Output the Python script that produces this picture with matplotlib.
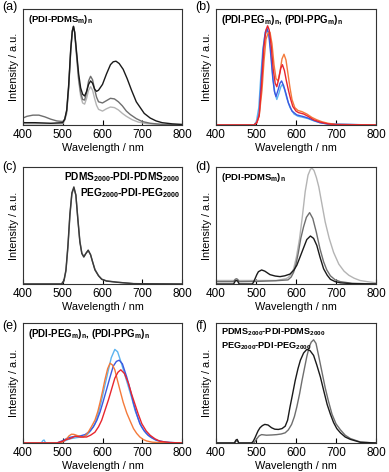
import matplotlib.pyplot as plt

plt.rcParams['font.family'] = ['Liberation Sans', 'DejaVu Sans']
plt.rcParams['mathtext.fontset'] = 'custom'
plt.rcParams['mathtext.rm'] = 'Liberation Sans:bold'
plt.rcParams['mathtext.it'] = 'Liberation Sans:bold'
plt.rcParams['mathtext.bf'] = 'Liberation Sans:bold'

# colours
BLACK = '#1a1a1a'
MIDGRAY = '#6e6e6e'
LIGHTGRAY = '#b4b4b4'
LIGHTBLUE = '#5cb4f0'
BLUE = '#3c58e0'
RED = '#e8262e'
ORANGE = '#f47a3a'

# ---- (a) solution spectra, (PDI-PDMSm)n
a_black_x = [400, 430, 470, 500, 505, 510, 515, 520, 524, 527, 530, 535, 540, 545, 550, 555, 560, 565, 570, 575, 580, 585, 590, 600, 610, 620, 627, 634, 642, 652, 662, 673, 685, 695, 705, 720, 735, 750, 775, 800]
a_black_y = [0.02, 0.02, 0.015, 0.02, 0.05, 0.13, 0.35, 0.65, 0.81, 0.85, 0.80, 0.62, 0.44, 0.32, 0.265, 0.25, 0.29, 0.35, 0.38, 0.36, 0.31, 0.29, 0.30, 0.35, 0.44, 0.52, 0.545, 0.55, 0.53, 0.48, 0.40, 0.30, 0.20, 0.15, 0.10, 0.06, 0.035, 0.02, 0.01, 0.005]
a_mid_x = [400, 410, 425, 440, 455, 470, 485, 500, 505, 510, 515, 520, 524, 527, 530, 535, 540, 545, 550, 555, 560, 565, 570, 575, 580, 585, 590, 600, 610, 620, 630, 640, 650, 660, 670, 685, 700, 720, 750, 800]
a_mid_y = [0.06, 0.075, 0.085, 0.085, 0.07, 0.05, 0.035, 0.03, 0.05, 0.12, 0.33, 0.64, 0.81, 0.85, 0.80, 0.60, 0.40, 0.28, 0.22, 0.215, 0.28, 0.38, 0.42, 0.39, 0.31, 0.24, 0.20, 0.19, 0.21, 0.23, 0.225, 0.20, 0.165, 0.12, 0.09, 0.055, 0.03, 0.015, 0.005, 0.0]
a_light_x = [400, 500, 505, 510, 515, 520, 524, 527, 530, 535, 540, 545, 550, 555, 560, 565, 570, 575, 580, 585, 590, 600, 610, 620, 630, 640, 650, 660, 675, 690, 710, 750, 800]
a_light_y = [0.01, 0.01, 0.04, 0.10, 0.32, 0.63, 0.80, 0.85, 0.79, 0.58, 0.38, 0.25, 0.19, 0.18, 0.23, 0.30, 0.33, 0.30, 0.23, 0.17, 0.135, 0.12, 0.14, 0.155, 0.15, 0.13, 0.10, 0.075, 0.045, 0.025, 0.012, 0.003, 0.0]

# ---- (b) solution spectra, (PDI-PEGm)n and (PDI-PPGm)n
b_lblue_x = [400, 495, 501, 507, 512, 517, 522, 527, 532, 537, 542, 547, 552, 557, 562, 566, 571, 577, 585, 595, 605, 615, 630, 645, 660, 680, 800]
b_lblue_y = [0.0, 0.0, 0.03, 0.15, 0.42, 0.65, 0.77, 0.81, 0.80, 0.65, 0.42, 0.28, 0.22, 0.27, 0.33, 0.35, 0.31, 0.23, 0.15, 0.095, 0.075, 0.068, 0.055, 0.035, 0.02, 0.008, 0.0]
b_blue_x = [400, 495, 502, 508, 513, 518, 523, 528, 532, 537, 542, 546, 550, 555, 560, 564, 569, 575, 581, 590, 602, 612, 619, 630, 644, 660, 680, 800]
b_blue_y = [0.0, 0.0, 0.02, 0.10, 0.38, 0.65, 0.80, 0.83, 0.78, 0.60, 0.40, 0.29, 0.245, 0.30, 0.36, 0.38, 0.34, 0.27, 0.19, 0.12, 0.087, 0.078, 0.072, 0.06, 0.04, 0.02, 0.008, 0.0]
b_red_x = [400, 495, 502, 508, 514, 520, 525, 529, 533, 538, 543, 548, 552, 557, 562, 566, 571, 576, 581, 586, 592, 600, 606, 619, 630, 644, 660, 680, 700, 800]
b_red_y = [0.0, 0.0, 0.02, 0.08, 0.35, 0.68, 0.82, 0.855, 0.82, 0.68, 0.48, 0.36, 0.33, 0.40, 0.49, 0.52, 0.47, 0.38, 0.30, 0.23, 0.16, 0.12, 0.107, 0.095, 0.075, 0.045, 0.025, 0.01, 0.003, 0.0]
b_orange_x = [400, 495, 502, 508, 515, 520, 525, 530, 535, 540, 545, 550, 555, 560, 565, 570, 575, 580, 585, 590, 597, 605, 615, 627, 640, 652, 665, 680, 700, 800]
b_orange_y = [0.0, 0.0, 0.02, 0.08, 0.30, 0.55, 0.74, 0.79, 0.80, 0.70, 0.52, 0.40, 0.38, 0.46, 0.57, 0.61, 0.56, 0.44, 0.32, 0.22, 0.15, 0.125, 0.115, 0.095, 0.065, 0.045, 0.028, 0.015, 0.005, 0.0]

# ---- (c) PDMS2000-PDI-PDMS2000 and PEG2000-PDI-PEG2000 in solution
c_x = [400, 497, 503, 508, 513, 518, 523, 528, 533, 538, 543, 548, 553, 558, 564, 570, 575, 581, 590, 598, 610, 636, 678, 800]
c_dark_y = [0.0, 0.0, 0.03, 0.12, 0.33, 0.60, 0.78, 0.83, 0.76, 0.55, 0.36, 0.26, 0.23, 0.26, 0.29, 0.25, 0.19, 0.12, 0.07, 0.04, 0.025, 0.015, 0.003, 0.0]
c_mid_y = [0.0, 0.0, 0.025, 0.11, 0.31, 0.58, 0.77, 0.82, 0.76, 0.56, 0.37, 0.265, 0.235, 0.26, 0.285, 0.25, 0.19, 0.125, 0.072, 0.042, 0.027, 0.016, 0.003, 0.0]

# ---- (d) film spectra, (PDI-PDMSm)n
d_black_x = [400, 444, 448, 451, 454, 458, 490, 493, 497, 502, 506, 514, 522, 535, 548, 560, 572, 585, 595, 602, 610, 619, 627, 636, 644, 652, 660, 669, 678, 686, 698, 711, 740, 800]
d_black_y = [0.0, 0.0, 0.025, 0.03, 0.025, 0.0, 0.0, 0.01, 0.04, 0.08, 0.105, 0.12, 0.11, 0.08, 0.068, 0.063, 0.07, 0.085, 0.12, 0.16, 0.23, 0.31, 0.38, 0.41, 0.39, 0.33, 0.23, 0.13, 0.075, 0.04, 0.02, 0.01, 0.003, 0.0]
d_mid_x = [400, 444, 448, 451, 454, 458, 500, 550, 580, 588, 594, 600, 606, 612, 619, 626, 634, 642, 651, 660, 669, 677, 686, 698, 711, 740, 800]
d_mid_y = [0.02, 0.02, 0.04, 0.045, 0.04, 0.02, 0.022, 0.028, 0.035, 0.06, 0.10, 0.17, 0.27, 0.39, 0.49, 0.57, 0.61, 0.56, 0.44, 0.30, 0.19, 0.12, 0.07, 0.035, 0.02, 0.006, 0.0]
d_light_x = [400, 450, 500, 550, 575, 581, 588, 594, 601, 609, 616, 623, 630, 636, 640, 645, 651, 657, 665, 673, 683, 694, 707, 720, 732, 745, 760, 778, 800]
d_light_y = [0.03, 0.03, 0.03, 0.03, 0.045, 0.057, 0.085, 0.13, 0.23, 0.39, 0.58, 0.79, 0.93, 0.98, 0.99, 0.97, 0.91, 0.83, 0.68, 0.53, 0.39, 0.27, 0.17, 0.11, 0.075, 0.05, 0.03, 0.02, 0.01]

# ---- (e) film spectra, (PDI-PEGm)n and (PDI-PPGm)n
e_lblue_x = [400, 446, 450, 453, 457, 490, 500, 518, 535, 548, 560, 570, 581, 590, 598, 606, 615, 622, 631, 638, 648, 656, 665, 674, 682, 690, 699, 710, 720, 732, 745, 770, 800]
e_lblue_y = [0.0, 0.0, 0.02, 0.025, 0.0, 0.0, 0.01, 0.035, 0.045, 0.05, 0.064, 0.10, 0.16, 0.25, 0.36, 0.48, 0.61, 0.71, 0.78, 0.76, 0.66, 0.57, 0.47, 0.37, 0.27, 0.20, 0.13, 0.08, 0.05, 0.028, 0.014, 0.004, 0.0]
e_blue_x = [400, 485, 500, 515, 531, 545, 556, 567, 577, 586, 594, 602, 611, 619, 627, 635, 642, 650, 661, 670, 678, 686, 694, 705, 715, 726, 736, 760, 800]
e_blue_y = [0.0, 0.0, 0.02, 0.045, 0.056, 0.06, 0.07, 0.095, 0.134, 0.19, 0.26, 0.35, 0.455, 0.55, 0.64, 0.68, 0.69, 0.66, 0.55, 0.44, 0.33, 0.24, 0.16, 0.10, 0.064, 0.04, 0.022, 0.006, 0.0]
e_red_x = [400, 485, 500, 510, 518, 531, 545, 560, 570, 581, 590, 598, 606, 615, 623, 631, 639, 646, 655, 665, 673, 682, 690, 699, 710, 720, 732, 745, 770, 800]
e_red_y = [0.0, 0.0, 0.015, 0.03, 0.036, 0.056, 0.05, 0.05, 0.065, 0.09, 0.135, 0.19, 0.27, 0.36, 0.45, 0.54, 0.59, 0.61, 0.58, 0.50, 0.41, 0.32, 0.24, 0.16, 0.10, 0.064, 0.035, 0.014, 0.004, 0.0]
e_orange_x = [400, 490, 501, 510, 516, 522, 528, 535, 543, 552, 558, 564, 572, 581, 588, 594, 600, 606, 613, 619, 625, 631, 637, 644, 652, 661, 670, 678, 686, 694, 702, 711, 725, 750, 800]
e_orange_y = [0.0, 0.0, 0.01, 0.036, 0.06, 0.073, 0.072, 0.064, 0.055, 0.05, 0.065, 0.09, 0.135, 0.19, 0.26, 0.34, 0.43, 0.525, 0.62, 0.665, 0.65, 0.61, 0.53, 0.44, 0.34, 0.25, 0.18, 0.12, 0.08, 0.05, 0.03, 0.017, 0.007, 0.002, 0.0]

# ---- (f) film spectra, PDMS2000-PDI-PDMS2000 and PEG2000-PDI-PEG2000
f_black_x = [400, 446, 450, 453, 457, 489, 493, 497, 501, 505, 510, 516, 522, 530, 539, 547, 556, 565, 573, 579, 585, 591, 598, 605, 611, 619, 627, 635, 644, 652, 661, 669, 678, 686, 694, 702, 711, 723, 736, 761, 800]
f_black_y = [0.0, 0.0, 0.025, 0.03, 0.0, 0.0, 0.014, 0.04, 0.07, 0.10, 0.127, 0.145, 0.155, 0.15, 0.127, 0.115, 0.113, 0.12, 0.14, 0.19, 0.30, 0.40, 0.52, 0.62, 0.69, 0.75, 0.78, 0.77, 0.73, 0.65, 0.55, 0.44, 0.32, 0.24, 0.17, 0.12, 0.085, 0.05, 0.03, 0.006, 0.0]
f_gray_x = [400, 446, 450, 453, 457, 495, 499, 503, 508, 514, 526, 540, 552, 563, 573, 581, 589, 596, 602, 609, 615, 621, 627, 633, 638, 644, 650, 657, 665, 673, 681, 690, 700, 711, 723, 736, 761, 800]
f_gray_y = [0.0, 0.0, 0.015, 0.02, 0.0, 0.0, 0.02, 0.04, 0.06, 0.07, 0.065, 0.067, 0.07, 0.075, 0.085, 0.11, 0.155, 0.22, 0.30, 0.41, 0.52, 0.62, 0.72, 0.80, 0.84, 0.86, 0.83, 0.72, 0.59, 0.46, 0.35, 0.24, 0.16, 0.11, 0.065, 0.037, 0.008, 0.0]

TITLE_A = r'(PDI-PDMS$_\mathregular{m}$)$_\mathregular{n}$'
TITLE_B = r'(PDI-PEG$_\mathregular{m}$)$_\mathregular{n}$, (PDI-PPG$_\mathregular{m}$)$_\mathregular{n}$'
TITLE_C = ('PDMS$_\\mathregular{2000}$-PDI-PDMS$_\\mathregular{2000}$\n'
           'PEG$_\\mathregular{2000}$-PDI-PEG$_\\mathregular{2000}$')

# (label, title, title alignment, title size, curves)
panels = [
    ('(a)', TITLE_A, 'left', 6.8,
     [(a_light_x, a_light_y, LIGHTGRAY), (a_mid_x, a_mid_y, MIDGRAY), (a_black_x, a_black_y, BLACK)]),
    ('(b)', TITLE_B, 'left', 7.0,
     [(b_lblue_x, b_lblue_y, LIGHTBLUE), (b_blue_x, b_blue_y, BLUE), (b_orange_x, b_orange_y, ORANGE), (b_red_x, b_red_y, RED)]),
    ('(c)', TITLE_C, 'right', 7.3,
     [(c_x, c_mid_y, MIDGRAY), (c_x, c_dark_y, '#3a3a3a')]),
    ('(d)', TITLE_A, 'left', 6.8,
     [(d_light_x, d_light_y, LIGHTGRAY), (d_mid_x, d_mid_y, MIDGRAY), (d_black_x, d_black_y, BLACK)]),
    ('(e)', TITLE_B, 'left', 7.0,
     [(e_lblue_x, e_lblue_y, LIGHTBLUE), (e_blue_x, e_blue_y, BLUE), (e_orange_x, e_orange_y, ORANGE), (e_red_x, e_red_y, RED)]),
    ('(f)', TITLE_C, 'left', 6.6,
     [(f_gray_x, f_gray_y, MIDGRAY), (f_black_x, f_black_y, BLACK)]),
]

# axes boxes in pixels (left, top, right, bottom) and panel-label centre y
W, H = 389, 472
boxes = [(23, 9, 182, 125), (216, 9, 376, 125),
         (23, 167, 182, 284), (216, 167, 376, 284),
         (23, 323, 182, 443), (216, 323, 376, 443)]
label_y = [7, 7, 167, 167, 326, 326]

fig = plt.figure(figsize=(W / 100, H / 100), dpi=100)

for (lab, title, align, tsize, curves), (l, t, r, b), ly in zip(panels, boxes, label_y):
    ax = fig.add_axes([l / W, 1 - b / H, (r - l) / W, (b - t) / H])
    for x, y, c in curves:
        ax.plot(x, y, color=c, lw=1.0)
    ax.set_xlim(400, 800)
    ax.set_ylim(0, 1)
    ax.set_xticks([400, 500, 600, 700, 800])
    ax.set_yticks([])
    ax.tick_params(axis='x', direction='in', length=3.5, width=0.8, labelsize=8.5, pad=3)
    for s in ax.spines.values():
        s.set_linewidth(0.8)
        s.set_color('#333333')
    ax.set_xlabel('Wavelength / nm', fontsize=7.8, labelpad=1)
    ax.set_ylabel('Intensity / a.u.', fontsize=7.8, labelpad=3)
    fig.text((l - 21) / W, 1 - ly / H, lab, fontsize=9, va='center', ha='left')
    if align == 'left':
        ax.text(5 / (r - l), 1 - 4 / (b - t), title, transform=ax.transAxes, fontsize=tsize,
                fontweight='bold', va='top', ha='left', linespacing=1.25)
    else:
        ax.text(1 - 2 / (r - l), 1 - 3 / (b - t), title, transform=ax.transAxes, fontsize=tsize,
                fontweight='bold', va='top', ha='right', linespacing=1.25)

fig.savefig('out.png', dpi=100)
